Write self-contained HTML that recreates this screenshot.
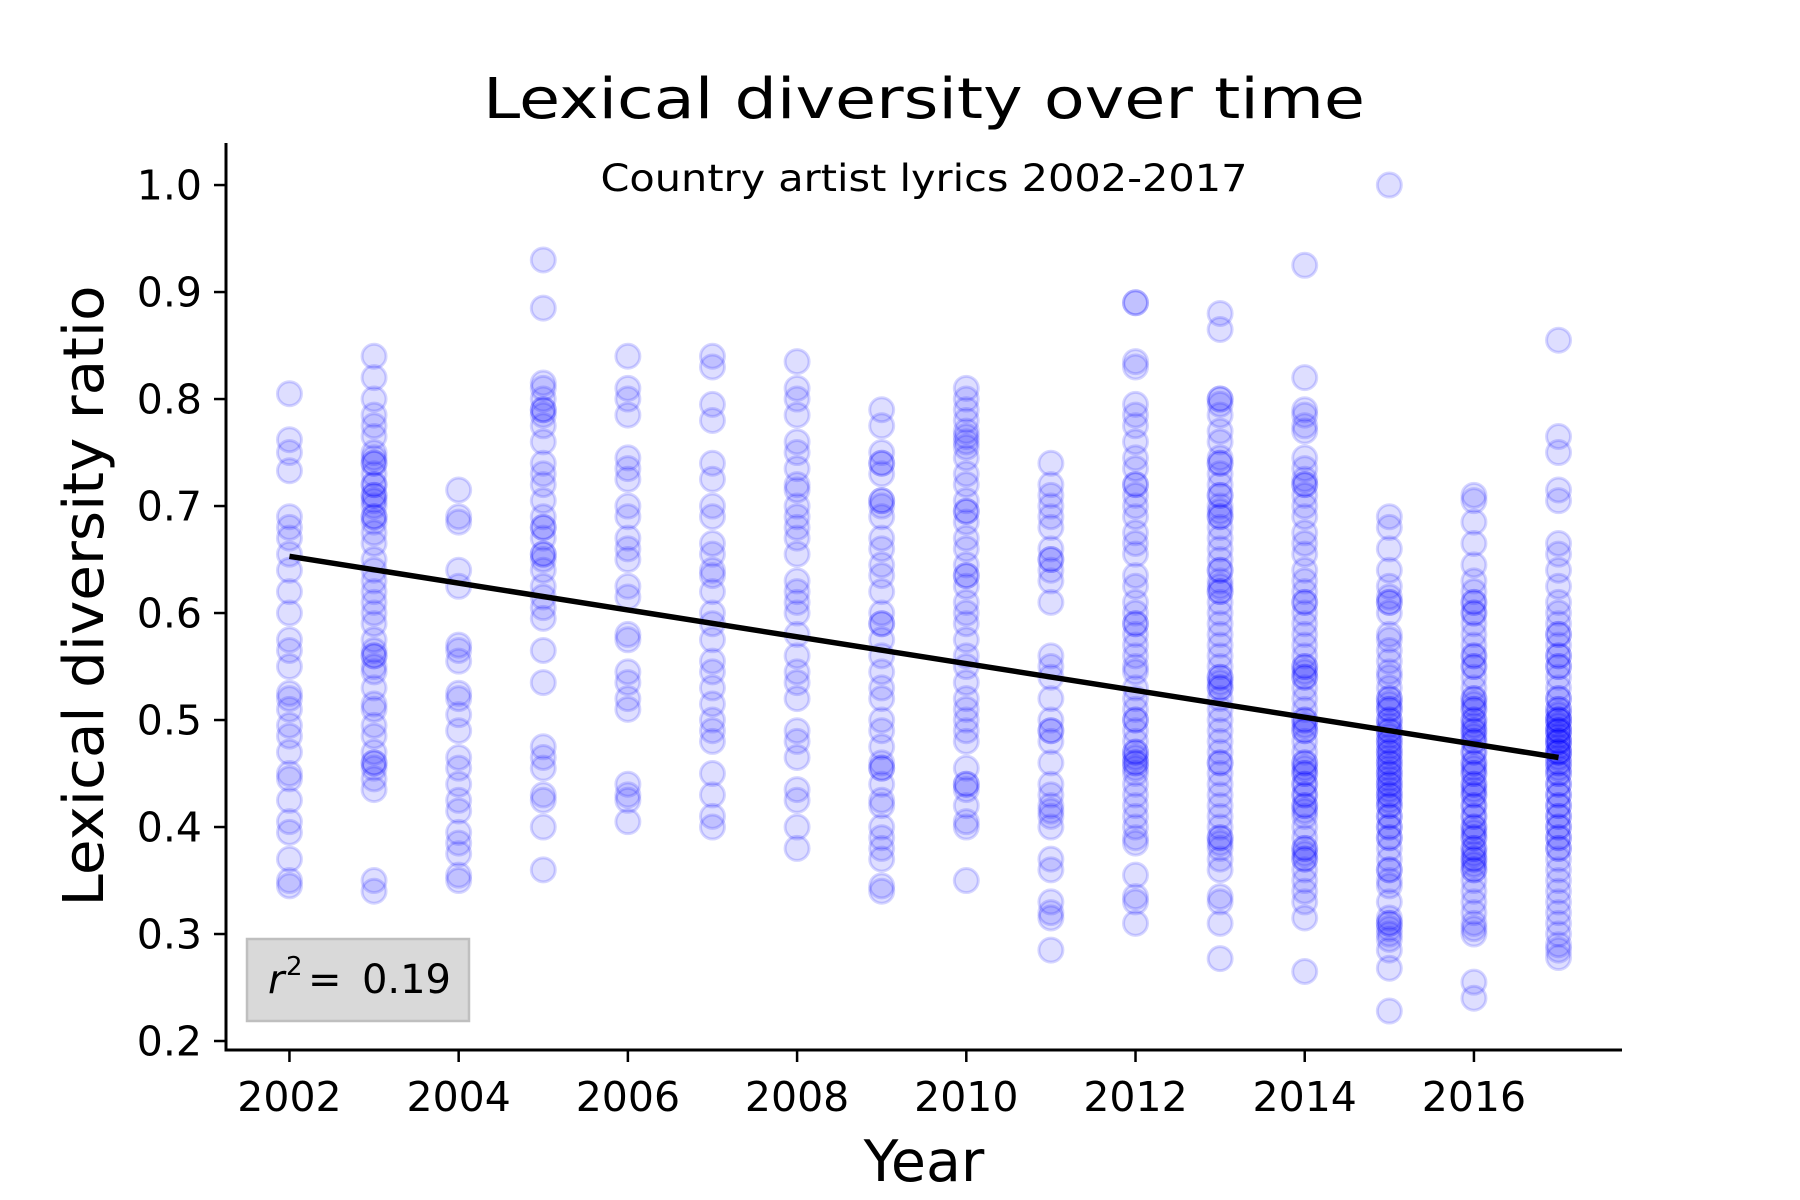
<!DOCTYPE html>
<html><head><meta charset="utf-8"><title>Lexical diversity over time</title>
<style>html,body{margin:0;padding:0;background:#fff}svg{display:block}text{font-family:"DejaVu Sans","Liberation Sans",sans-serif;fill:#000}</style>
</head><body>
<svg id="chart" width="1800" height="1200" viewBox="0 0 1800 1200" xmlns="http://www.w3.org/2000/svg">
<rect x="0" y="0" width="1800" height="1200" fill="#fff"/>
<g id="points"></g>
<g id="fit"></g>
<g id="axes"></g>
<text x="924" y="118" text-anchor="middle" font-size="56" textLength="882" lengthAdjust="spacingAndGlyphs">Lexical diversity over time</text>
<text x="924" y="191" text-anchor="middle" font-size="37" textLength="647" lengthAdjust="spacingAndGlyphs">Country artist lyrics 2002-2017</text>
<text x="924" y="1181" text-anchor="middle" font-size="57">Year</text>
<text transform="translate(103,596) rotate(-90)" x="0" y="0" text-anchor="middle" font-size="56" textLength="621" lengthAdjust="spacingAndGlyphs">Lexical diversity ratio</text>
<g>
<rect x="247" y="939" width="222" height="82" fill="#d9d9d9" stroke="#bfbfbf" stroke-width="2.5"/>
<text x="268" y="993" font-size="40" font-style="italic">r</text>
<text x="286" y="975" font-size="26">2</text>
<text x="308" y="993" font-size="40">=</text>
<text id="r2val" x="451" y="993" font-size="40" text-anchor="end">0.19</text>
</g>
</svg>
<script>
const years = [2002,2003,2004,2005,2006,2007,2008,2009,2010,2011,2012,2013,2014,2015,2016,2017];
const yTicks = [0.2,0.3,0.4,0.5,0.6,0.7,0.8,0.9,1.0];
const yTickLabels = ["0.2","0.3","0.4","0.5","0.6","0.7","0.8","0.9","1.0"];
const xTicks = [2002,2004,2006,2008,2010,2012,2014,2016];
const xTickLabels = ["2002","2004","2006","2008","2010","2012","2014","2016"];
const fitYears = [2002,2017];
const fitValues = [0.653,0.465];
const rSquared = 0.19;
const v2002 = [0.805,0.762,0.75,0.733,0.69,0.68,0.67,0.655,0.64,0.62,0.6,0.575,0.565,0.55,0.525,0.52,0.51,0.495,0.485,0.47,0.45,0.445,0.425,0.405,0.395,0.37,0.35,0.345];
const v2003 = [0.84,0.82,0.80,0.785,0.775,0.765,0.75,0.745,0.74,0.73,0.72,0.71,0.705,0.7,0.69,0.685,0.675,0.665,0.65,0.64,0.63,0.62,0.61,0.6,0.59,0.575,0.565,0.56,0.55,0.545,0.53,0.515,0.51,0.495,0.485,0.47,0.46,0.455,0.445,0.435,0.35,0.34,0.71,0.69,0.74,0.72,0.56,0.46];
const v2004 = [0.715,0.69,0.685,0.64,0.625,0.57,0.565,0.555,0.525,0.52,0.505,0.49,0.465,0.455,0.44,0.425,0.415,0.395,0.385,0.375,0.355,0.35];
const v2005 = [0.93,0.885,0.815,0.81,0.8,0.79,0.785,0.775,0.76,0.74,0.73,0.72,0.705,0.69,0.68,0.67,0.655,0.65,0.64,0.625,0.615,0.605,0.595,0.565,0.535,0.475,0.465,0.455,0.43,0.425,0.4,0.36,0.79,0.68,0.655];
const v2006 = [0.84,0.81,0.8,0.785,0.745,0.735,0.725,0.7,0.69,0.67,0.66,0.65,0.625,0.615,0.58,0.575,0.545,0.535,0.52,0.51,0.44,0.43,0.425,0.405];
const v2007 = [0.84,0.83,0.795,0.78,0.74,0.725,0.7,0.69,0.665,0.655,0.64,0.635,0.62,0.6,0.59,0.575,0.555,0.545,0.53,0.515,0.5,0.49,0.48,0.45,0.43,0.41,0.4];
const v2008 = [0.835,0.81,0.8,0.785,0.76,0.75,0.735,0.72,0.715,0.7,0.69,0.68,0.67,0.655,0.63,0.62,0.61,0.6,0.58,0.56,0.545,0.535,0.52,0.49,0.48,0.465,0.435,0.425,0.4,0.38];
const v2009 = [0.79,0.775,0.75,0.74,0.73,0.705,0.7,0.69,0.67,0.66,0.645,0.635,0.62,0.6,0.59,0.575,0.56,0.545,0.53,0.52,0.5,0.49,0.475,0.46,0.455,0.44,0.425,0.42,0.4,0.39,0.38,0.37,0.345,0.34,0.74,0.705,0.59,0.455];
const v2010 = [0.81,0.8,0.79,0.78,0.77,0.765,0.755,0.745,0.73,0.72,0.705,0.695,0.685,0.67,0.66,0.645,0.635,0.625,0.61,0.6,0.59,0.575,0.56,0.55,0.535,0.52,0.51,0.5,0.49,0.48,0.455,0.44,0.435,0.42,0.405,0.4,0.35,0.76,0.695,0.635,0.44];
const v2011 = [0.74,0.72,0.71,0.7,0.69,0.68,0.66,0.65,0.64,0.63,0.61,0.56,0.55,0.54,0.52,0.5,0.49,0.48,0.46,0.44,0.43,0.42,0.41,0.4,0.37,0.36,0.33,0.32,0.315,0.285,0.65,0.49,0.415];
const v2012 = [0.89,0.89,0.835,0.83,0.795,0.785,0.775,0.76,0.745,0.735,0.72,0.71,0.7,0.69,0.675,0.665,0.655,0.635,0.625,0.61,0.6,0.59,0.58,0.57,0.56,0.55,0.545,0.53,0.52,0.51,0.5,0.49,0.48,0.47,0.465,0.46,0.45,0.44,0.43,0.42,0.41,0.4,0.39,0.385,0.355,0.335,0.33,0.31,0.47,0.46,0.455,0.59,0.5,0.72];
const v2013 = [0.88,0.865,0.8,0.795,0.785,0.77,0.76,0.745,0.74,0.73,0.72,0.71,0.7,0.695,0.69,0.68,0.67,0.66,0.65,0.64,0.63,0.625,0.62,0.61,0.6,0.59,0.58,0.57,0.56,0.55,0.54,0.535,0.53,0.52,0.51,0.5,0.49,0.48,0.47,0.46,0.45,0.44,0.43,0.42,0.41,0.4,0.39,0.385,0.38,0.37,0.36,0.335,0.33,0.31,0.277,0.69,0.64,0.62,0.54,0.53,0.46,0.39,0.8,0.74,0.71];
const v2014 = [0.925,0.82,0.79,0.785,0.775,0.77,0.745,0.735,0.725,0.72,0.71,0.7,0.69,0.675,0.665,0.655,0.64,0.63,0.62,0.61,0.6,0.59,0.58,0.57,0.56,0.55,0.545,0.54,0.53,0.52,0.51,0.5,0.495,0.49,0.48,0.47,0.46,0.455,0.45,0.44,0.43,0.42,0.415,0.41,0.4,0.39,0.38,0.375,0.37,0.36,0.35,0.34,0.33,0.315,0.265,0.55,0.54,0.5,0.49,0.46,0.45,0.44,0.43,0.42,0.38,0.37,0.72,0.61];
const v2015 = [1.0,0.69,0.68,0.66,0.64,0.625,0.615,0.61,0.6,0.58,0.575,0.565,0.555,0.545,0.54,0.53,0.52,0.515,0.51,0.5,0.495,0.49,0.485,0.48,0.475,0.47,0.465,0.46,0.455,0.45,0.445,0.44,0.435,0.43,0.425,0.42,0.41,0.4,0.39,0.38,0.37,0.36,0.35,0.345,0.33,0.315,0.31,0.305,0.295,0.285,0.268,0.228,0.5,0.49,0.48,0.47,0.46,0.45,0.44,0.43,0.42,0.41,0.4,0.39,0.36,0.61,0.52,0.51,0.3,0.31];
const v2016 = [0.71,0.705,0.685,0.665,0.645,0.63,0.62,0.61,0.6,0.59,0.58,0.57,0.56,0.55,0.54,0.53,0.52,0.515,0.51,0.5,0.495,0.49,0.485,0.48,0.47,0.46,0.455,0.45,0.44,0.435,0.43,0.42,0.41,0.4,0.395,0.39,0.38,0.375,0.37,0.365,0.36,0.35,0.34,0.33,0.32,0.31,0.305,0.3,0.255,0.24,0.52,0.51,0.5,0.49,0.48,0.47,0.46,0.45,0.44,0.43,0.42,0.41,0.4,0.39,0.38,0.37,0.36,0.6,0.61,0.56,0.55];
const v2017 = [0.855,0.765,0.75,0.715,0.705,0.665,0.655,0.64,0.625,0.61,0.6,0.59,0.58,0.57,0.56,0.55,0.54,0.53,0.52,0.51,0.505,0.5,0.495,0.49,0.485,0.48,0.475,0.47,0.465,0.46,0.455,0.45,0.44,0.43,0.42,0.41,0.4,0.39,0.38,0.37,0.36,0.35,0.34,0.33,0.32,0.31,0.3,0.29,0.285,0.278,0.52,0.51,0.5,0.49,0.48,0.47,0.46,0.45,0.44,0.43,0.42,0.41,0.4,0.39,0.38,0.55,0.56,0.58,0.5,0.49,0.48,0.47];
const valuesByYear = [v2002,v2003,v2004,v2005,v2006,v2007,v2008,v2009,v2010,v2011,v2012,v2013,v2014,v2015,v2016,v2017];

const NS = "http://www.w3.org/2000/svg";
const plotL = 226, plotR = 1622, plotT = 143, plotB = 1050;
const xMin = 2001.25, xMax = 2017.75, yMin = 0.1916, yMax = 1.0393;
function xScale(v){ return plotL + (v - xMin) / (xMax - xMin) * (plotR - plotL); }
function yScale(v){ return plotB - (v - yMin) / (yMax - yMin) * (plotB - plotT); }
function mk(tag, attrs, parent){ const e = document.createElementNS(NS, tag); for (const k in attrs) e.setAttribute(k, attrs[k]); parent.appendChild(e); return e; }

const pts = document.getElementById('points');
years.forEach((yr, i) => {
  valuesByYear[i].forEach(v => {
    const c = mk('circle', {cx: xScale(yr), cy: yScale(v), r: 12, fill: 'rgba(0,0,255,0.13)', stroke: 'rgba(0,0,255,0.16)', 'stroke-width': 3}, pts);
    
    
  });
});

const fit = document.getElementById('fit');
const ln = mk('line', {x1: xScale(fitYears[0]), y1: yScale(fitValues[0]), x2: xScale(fitYears[1]), y2: yScale(fitValues[1]), stroke: '#000', 'stroke-width': 5.5}, fit);



document.getElementById('r2val').textContent = rSquared.toFixed(2);

const ax = document.getElementById('axes');
const yAxis = mk('line', {x1: plotL, y1: plotT, x2: plotL, y2: plotB + 1.5, stroke: '#000', 'stroke-width': 3}, ax);


const xAxis = mk('line', {x1: plotL - 1.5, y1: plotB, x2: plotR, y2: plotB, stroke: '#000', 'stroke-width': 3}, ax);



yTicks.forEach((t, i) => {
  const y = yScale(t);
  const tk = mk('line', {x1: plotL - 12, y1: y, x2: plotL, y2: y, stroke: '#000', 'stroke-width': 2.5}, ax);
  
  
  const tx = mk('text', {x: plotL - 24, y: y + 14.5, 'text-anchor': 'end', 'font-size': 41}, ax);
  tx.textContent = yTickLabels[i];
  
  
});
xTicks.forEach((t, i) => {
  const x = xScale(t);
  const tk = mk('line', {x1: x, y1: plotB, x2: x, y2: plotB + 12, stroke: '#000', 'stroke-width': 2.5}, ax);
  
  
  const tx = mk('text', {x: x, y: 1111, 'text-anchor': 'middle', 'font-size': 41}, ax);
  tx.textContent = xTickLabels[i];
  
  
});
</script>
</body></html>
